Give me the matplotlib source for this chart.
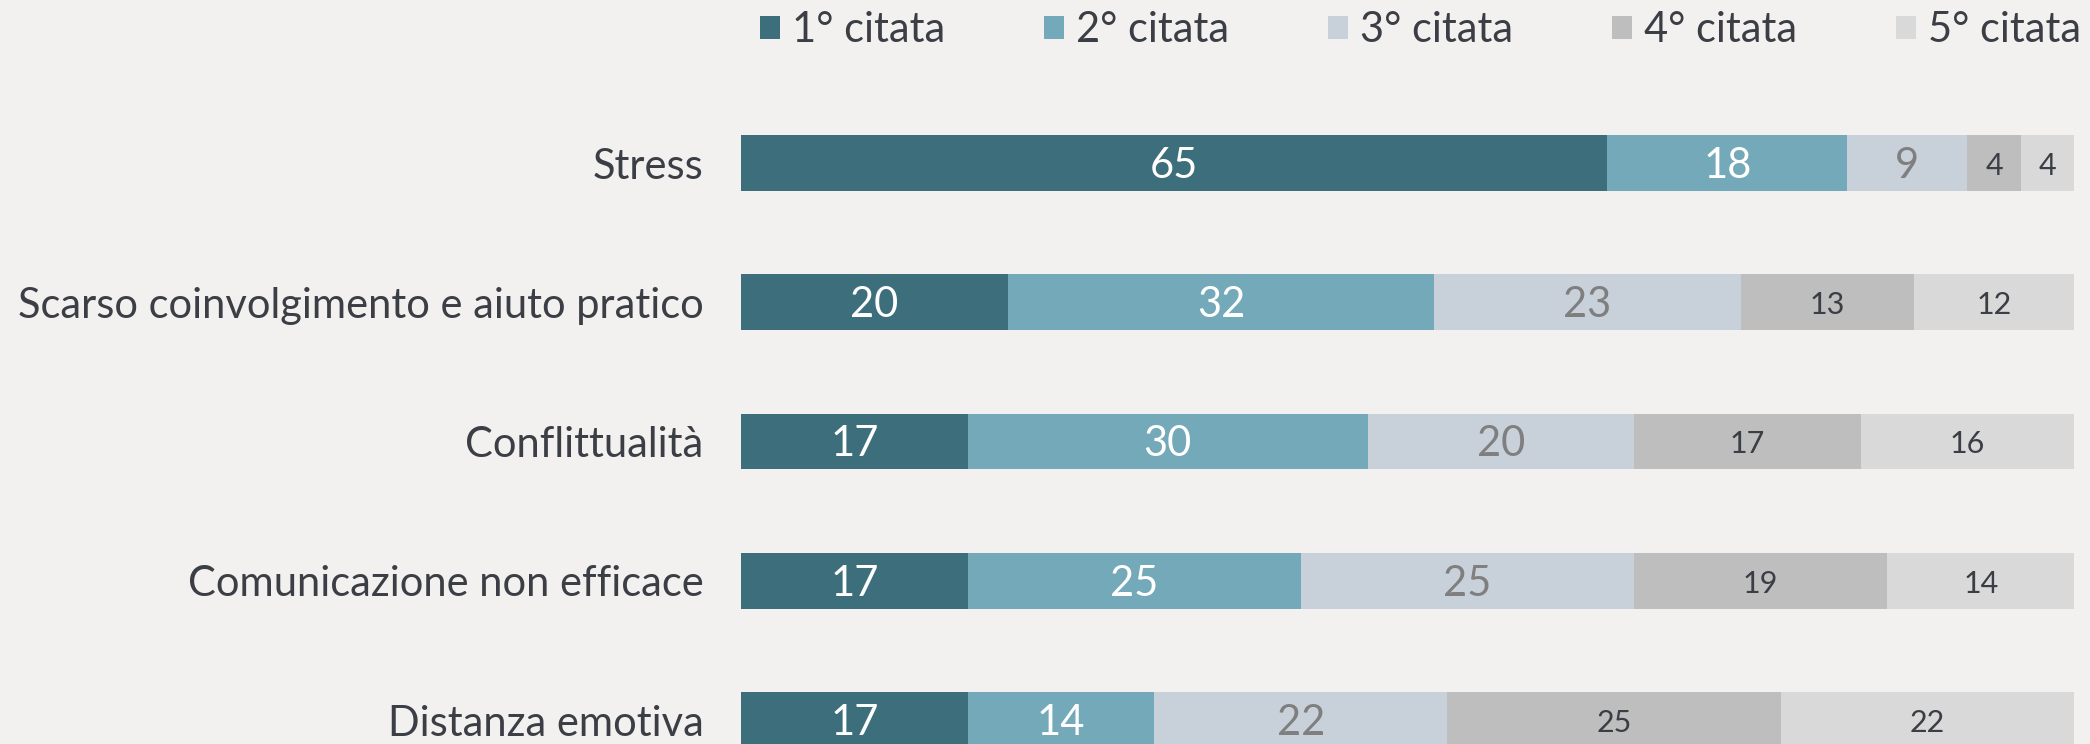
import matplotlib
matplotlib.use("Agg")
import matplotlib.pyplot as plt
from matplotlib.patches import Patch

plt.rcParams['font.family'] = ['Lato', 'DejaVu Sans']

# dati
categories = ["Stress", "Scarso coinvolgimento e aiuto pratico", "Conflittualità",
              "Comunicazione non efficace", "Distanza emotiva"]
series_names = ["1° citata", "2° citata", "3° citata", "4° citata", "5° citata"]
cit1 = [65, 20, 17, 17, 17]
cit2 = [18, 32, 30, 25, 14]
cit3 = [9, 23, 20, 25, 22]
cit4 = [4, 13, 17, 19, 25]
cit5 = [4, 12, 16, 14, 22]

colors = ["#3D6E7B", "#74A9B9", "#C8D0DA", "#BEBEBE", "#D9D9D9"]
text_colors = ["white", "white", "#7F7F7F", "#3B3F45", "#3B3F45"]
text_sizes = [30, 30, 30, 22, 22]
bg = "#F2F1EF"
dark = "#3B3F45"

fig = plt.figure(figsize=(20.9, 7.44), dpi=100, facecolor=bg)
ax = fig.add_axes([741 / 2090, 0, (2074 - 741) / 2090, 1])
ax.set_facecolor(bg)

y = list(range(len(categories)))
left = [0] * len(categories)
for i, vals in enumerate([cit1, cit2, cit3, cit4, cit5]):
    ax.barh(y, vals, left=left, height=0.40, color=colors[i], label=series_names[i])
    for j, v in enumerate(vals):
        ax.text(left[j] + v / 2, y[j] + 0.02, str(v), ha='center', va='center',
                color=text_colors[i], fontsize=text_sizes[i])
    left = [a + b for a, b in zip(left, vals)]

ax.set_xlim(0, 100)
ax.set_ylim(4.172, -1.1706)
ax.set_yticks(y)
ax.set_yticklabels(categories, fontsize=30, color=dark)
ax.tick_params(axis='y', length=0, pad=27)
ax.set_xticks([])
for s in ax.spines.values():
    s.set_visible(False)

# legenda in alto
handles = [Patch(facecolor=c, edgecolor='none') for c in colors]
fig.legend(handles, series_names, loc='center left', bbox_to_anchor=(760 / 2090, 1 - 30 / 744),
           ncol=5, frameon=False, fontsize=30, handlelength=0.48, handleheight=0.48,
           handletextpad=0.28, columnspacing=2.38, labelcolor=dark,
           borderpad=0, borderaxespad=0)

fig.savefig("out.png", dpi=100, facecolor=bg)
